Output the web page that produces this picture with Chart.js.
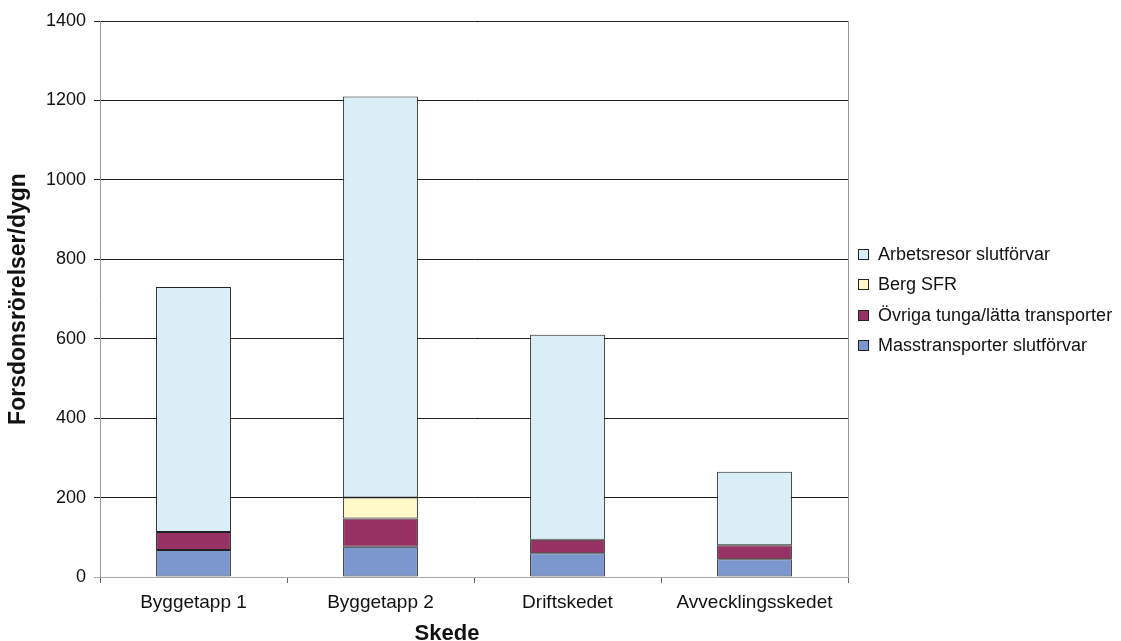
<!DOCTYPE html>
<html>
<head>
<meta charset="utf-8">
<script src="https://cdn.jsdelivr.net/npm/chart.js@4/dist/chart.umd.min.js"></script>
<style>
  html, body { margin: 0; padding: 0; background: #ffffff; }
  canvas { display: block; }
</style>
</head>
<body>
<canvas id="chart" width="1121" height="641"></canvas>
<script>
// Phases of the project
const categories = ['Byggetapp 1', 'Byggetapp 2', 'Driftskedet', 'Avvecklingsskedet'];

// Vehicle movements per day, by traffic type (stacked bottom to top)
const masstransporter = [68, 76, 60, 45];
const ovrigaTransporter = [45, 71, 34, 35];
const bergSFR = [null, 53, null, null];
const arbetsresor = [617, 1010, 516, 185];

// Y axis range
const yMin = 0;
const yMax = 1400;
const yStep = 200;

const FONT = "'Liberation Sans', Arial, sans-serif";

// Plot frame, x-axis title and the legend to the right of the plot
const sideLegend = {
  id: 'sideLegend',
  afterDraw(chart) {
    const { ctx, chartArea } = chart;
    ctx.save();
    // right frame line of the plot area
    ctx.strokeStyle = '#9a9a9a';
    ctx.lineWidth = 1;
    ctx.beginPath();
    ctx.moveTo(chartArea.right + 0.5, chartArea.top);
    ctx.lineTo(chartArea.right + 0.5, chartArea.bottom);
    ctx.stroke();

    // x-axis title
    ctx.font = 'bold 22px ' + FONT;
    ctx.fillStyle = '#111';
    ctx.textAlign = 'center';
    ctx.textBaseline = 'alphabetic';
    ctx.fillText('Skede', 447, 640);

    // legend, top item = top of stack
    const items = chart.data.datasets.slice().reverse();
    const x0 = 858;
    const gap = 30.5;
    const yStart = 253.5;
    ctx.font = '18px ' + FONT;
    ctx.textBaseline = 'middle';
    ctx.textAlign = 'left';
    items.forEach((ds, i) => {
      const y = Math.round(yStart + i * gap);
      ctx.fillStyle = ds.backgroundColor;
      ctx.fillRect(x0, y - 5, 11, 11);
      ctx.strokeStyle = '#222';
      ctx.lineWidth = 1;
      ctx.strokeRect(x0 + 0.5, y - 4.5, 10, 10);
      ctx.fillStyle = '#111';
      ctx.fillText(ds.label, 878, y + 1);
    });
    ctx.restore();
  }
};

const barStyle = {
  borderColor: '#222', borderWidth: 1, borderSkipped: false,
  categoryPercentage: 1.0, barPercentage: 0.4
};

new Chart(document.getElementById('chart'), {
  type: 'bar',
  data: {
    labels: categories,
    datasets: [
      { label: 'Masstransporter slutförvar', data: masstransporter, backgroundColor: '#7c97ce', ...barStyle },
      { label: 'Övriga tunga/lätta transporter', data: ovrigaTransporter, backgroundColor: '#963264', ...barStyle },
      { label: 'Berg SFR', data: bergSFR, backgroundColor: '#fff8c9', ...barStyle },
      { label: 'Arbetsresor slutförvar', data: arbetsresor, backgroundColor: '#daeef7', ...barStyle }
    ]
  },
  options: {
    responsive: false,
    devicePixelRatio: 1,
    animation: false,
    layout: { padding: { top: 21, right: 273, bottom: 0, left: 0 } },
    plugins: {
      legend: { display: false },
      tooltip: { enabled: false }
    },
    scales: {
      x: {
        stacked: true,
        offset: true,
        border: { color: '#a8a8a8', width: 1 },
        grid: { offset: true, drawOnChartArea: false, drawTicks: true, tickLength: 6, color: '#666' },
        ticks: { color: '#111', font: { family: FONT, size: 19 }, padding: 8, maxRotation: 0 },
        afterFit(scale) { scale.height = 64; }
      },
      y: {
        stacked: true,
        min: yMin,
        max: yMax,
        border: { color: '#9a9a9a', width: 1 },
        grid: {
          tickLength: 6,
          color: (c) => (c.tick && c.tick.value === 0 ? '#a8a8a8' : '#1e1e1e'),
          lineWidth: 1
        },
        ticks: {
          stepSize: yStep, color: '#111', font: { family: FONT, size: 18 }, padding: 8,
          callback: (v) => String(v)
        },
        title: {
          display: true, text: 'Forsdonsrörelser/dygn', color: '#111',
          font: { family: FONT, size: 23, weight: 'bold' },
          padding: { top: 5, bottom: 0 }
        },
        afterFit(scale) { scale.width = 100; }
      }
    }
  },
  plugins: [sideLegend]
});
</script>
</body>
</html>
